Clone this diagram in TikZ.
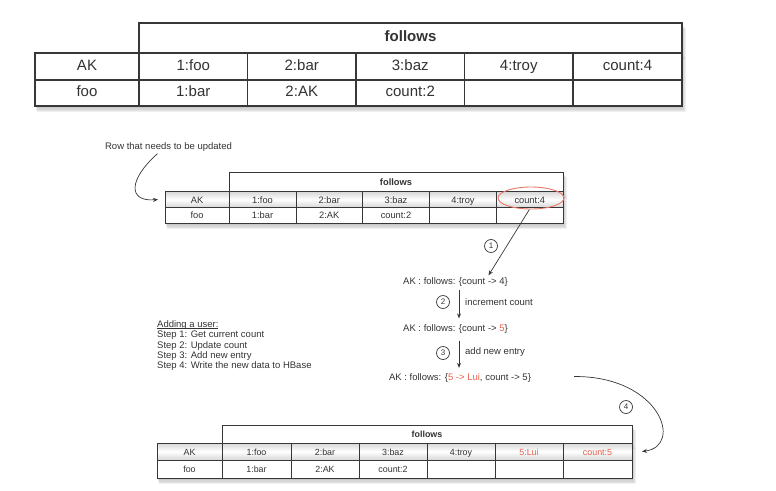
\documentclass[tikz,border=0pt]{standalone}
\usepackage{fontspec}
\setmainfont{Liberation Sans}
\usetikzlibrary{arrows.meta,shapes.geometric}
\definecolor{salmon}{RGB}{232,96,76}
\definecolor{ink}{RGB}{55,55,55}
\newcommand\tcell[7]{%
  \node[cellbox,#7,minimum width={(#4)-(#2)},minimum height={(#5)-(#3)}] (#1) at ({((#2)+(#4))/2},{((#3)+(#5))/2}) {#6};}
\newcommand\tshadow[4]{%
  \foreach \k in {1,...,5}{\fill[black,opacity=0.06] ({#1+\k*0.4},{#2+\k*0.9}) rectangle ({#3+\k*0.7},{#4+\k*1.2});}}
\newcommand\myul[1]{\setbox0\hbox{#1}\rlap{\rule[-1.3pt]{\wd0}{0.5pt}}\box0}
\tikzset{
  cellbox/.style={draw=ink,inner sep=0pt,outer sep=0pt,text=black!80,fill=white,text height=0.82em,text depth=0.1em},
  bigt/.style={line width=1.1pt,font=\fontsize{15}{18}\selectfont},
  midt/.style={line width=0.8pt,font=\fontsize{9.3}{11}\selectfont},
  lowt/.style={line width=0.8pt,font=\fontsize{8.9}{11}\selectfont},
  shaded/.style={top color=black!16,bottom color=black!16,middle color=white},
  arr/.style={draw=ink,line width=0.7pt,-{Stealth[length=5pt,width=4pt]}},
  numc/.style={circle,draw=ink,line width=0.7pt,minimum size=13pt,inner sep=0pt,font=\fontsize{8}{9}\selectfont,text=ink},
  txt/.style={inner sep=1pt,text=black!80,font=\fontsize{9.5}{11}\selectfont}
}
\begin{document}
\begin{tikzpicture}[x=1pt,y=-1pt]
\useasboundingbox (0,0) rectangle (776,490);
% ---------- top table ----------
\tshadow{35}{53}{682}{106}
\tshadow{139}{23}{682}{53}
\tcell{th}{139}{23}{682}{53}{\bfseries follows}{bigt}
\foreach \xa/\xb/\t [count=\i] in {35/139/AK,139/247.5/1:foo,247.5/356/2:bar,356/464.5/3:baz,464.5/573/4:troy,573/682/count:4}
  {\tcell{ta\i}{\xa}{53}{\xb}{80}{\t}{bigt}}
\foreach \xa/\xb/\t [count=\i] in {35/139/foo,139/247.5/1:bar,247.5/356/2:AK,356/464.5/count:2,464.5/573/{},573/682/{}}
  {\tcell{tb\i}{\xa}{80}{\xb}{106}{\t}{bigt}}
% ---------- middle table ----------
\tshadow{165}{191.5}{563}{223}
\tshadow{229}{172}{563}{191.5}
\tcell{mh}{229}{172}{563}{191.5}{\bfseries follows}{midt}
\foreach \xa/\xb/\t [count=\i] in {165/229/AK,229/296/1:foo,296/362.5/2:bar,362.5/429.5/3:baz,429.5/496.5/4:troy,496.5/563/count:4}
  {\tcell{ma\i}{\xa}{191.5}{\xb}{207.5}{\t}{midt,shaded}}
\foreach \xa/\xb/\t [count=\i] in {165/229/foo,229/296/1:bar,296/362.5/2:AK,362.5/429.5/count:2,429.5/496.5/{},496.5/563/{}}
  {\tcell{mb\i}{\xa}{207.5}{\xb}{223}{\t}{midt}}
\node[ellipse,draw=salmon!85,line width=0.9pt,minimum width=66pt,minimum height=22pt,inner sep=0pt] (e1) at (531,198) {};
% ---------- bottom table ----------
\tshadow{157}{443}{632}{478}
\tshadow{222}{425}{632}{443}
\tcell{bh}{222}{425}{632}{443}{\bfseries follows}{lowt}
\foreach \xa/\xb/\t [count=\i] in {157/222/AK,222/291/1:foo,291/359/2:bar,359/427/3:baz,427/495/4:troy,495/563/{\color{salmon}5:Lui},563/632/{\color{salmon}count:5}}
  {\tcell{ba\i}{\xa}{443}{\xb}{460}{\t}{lowt,shaded}}
\foreach \xa/\xb/\t [count=\i] in {157/222/foo,222/291/1:bar,291/359/2:AK,359/427/count:2,427/495/{},495/563/{},563/632/{}}
  {\tcell{bb\i}{\xa}{460}{\xb}{478}{\t}{lowt}}
% ---------- labels ----------
\node[txt] (rl) at (168.5,147) {Row that needs to be updated};
\draw[arr] ([xshift=-11pt,yshift=-1pt]rl.south) .. controls (128,180) and (128,202) .. ([xshift=-7pt]ma1.west);
\node[txt,anchor=north west,align=left,inner sep=0pt,font=\fontsize{9.5}{10.3}\selectfont] (steps) at (157,320.5)
  {\myul{Adding a user:}\\Step 1: Get current count\\Step 2: Update count\\Step 3: Add new entry\\Step 4: Write the new data to HBase};
% ---------- process ----------
\node[txt] (s1) at (455.5,282) {AK : follows: \{count -> 4\}};
\node[txt] (s2) at (455.5,329) {AK : follows: \{count -> {\color{salmon}5}\}};
\node[txt] (s3) at (460,378.5) {AK : follows: \{{\color{salmon}5 -> Lui}, count -> 5\}};
\draw[arr] (e1.262) -- ([xshift=33pt,yshift=1pt]s1.north);
\node[numc] (n1) at (491,246) {1};
\draw[arr,shorten <=2pt,shorten >=5pt] ([xshift=3.5pt]s1.south) -- ([xshift=3.5pt]s2.north);
\node[numc] (n2) at (443,302) {2};
\node[txt,anchor=west] (l2) at (464,302) {increment count};
\draw[arr,shorten <=6pt,shorten >=5pt] ([xshift=3.5pt]s2.south) -- ([xshift=-1pt]s3.north);
\node[numc] (n3) at (443,353) {3};
\node[txt,anchor=west] (l3) at (464,352) {add new entry};
\draw[arr] ([xshift=42pt,yshift=2pt]s3.east) .. controls (660,376) and (684,446) .. ([xshift=10pt]ba7.east);
\node[numc] (n4) at (626,407) {4};
\end{tikzpicture}
\end{document}
